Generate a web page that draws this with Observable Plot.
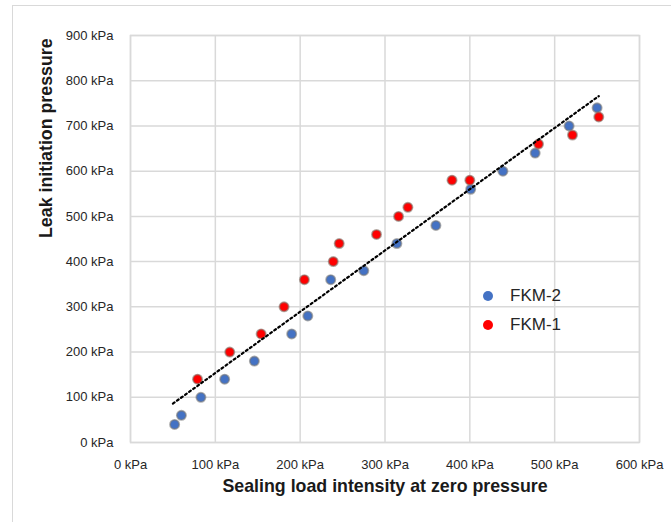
<!DOCTYPE html>
<html>
<head>
<meta charset="utf-8">
<script src="https://cdn.jsdelivr.net/npm/d3@7"></script>
<script src="https://cdn.jsdelivr.net/npm/@observablehq/plot@0.6"></script>
<style>
  html, body { margin: 0; padding: 0; background: #fff; }
  #wrap { position: relative; width: 671px; height: 522px; overflow: hidden; font-family: "Liberation Sans", Arial, sans-serif; }
  #border { position: absolute; left: 12px; top: 5px; width: 700px; height: 600px; border-top: 1px solid #d9d9d9; border-left: 1px solid #d9d9d9; }
  #chart { position: absolute; left: 0; top: 0; }
  .leg { position: absolute; display: flex; align-items: center; font-size: 17px; color: #262626; height: 20px; }
  .leg .sw { width: 10px; height: 10px; border-radius: 50%; margin-right: 17px; }
</style>
</head>
<body>
<div id="wrap">
  <div id="border"></div>
  <div id="chart"></div>
</div>
<script>
// Series: FKM-2 (blue)
const fkm2X = [52, 60, 83, 111, 146, 190, 209, 236, 275, 314, 360, 401, 439, 477, 517, 550];
const fkm2Y = [40, 60, 100, 140, 180, 240, 280, 360, 380, 440, 480, 560, 600, 640, 700, 740];
// Series: FKM-1 (red)
const fkm1X = [79, 117, 154, 181, 205, 239, 246, 290, 316, 327, 379, 400, 481, 521, 552];
const fkm1Y = [140, 200, 240, 300, 360, 400, 440, 460, 500, 520, 580, 580, 660, 680, 720];
// Linear trendline end points
const trendX = [50, 552];
const trendY = [86, 766];

const xTicks = [0, 100, 200, 300, 400, 500, 600];
const yTicks = [0, 100, 200, 300, 400, 500, 600, 700, 800, 900];
const seriesNames = ["FKM-2", "FKM-1"];
const seriesColors = ["#4472C4", "#FF0000"];
const xTitle = "Sealing load intensity at zero pressure";
const yTitle = "Leak initiation pressure";

const fkm2 = fkm2X.map((x, i) => ({x, y: fkm2Y[i], s: seriesNames[0]}));
const fkm1 = fkm1X.map((x, i) => ({x, y: fkm1Y[i], s: seriesNames[1]}));
const trend = trendX.map((x, i) => ({x, y: trendY[i]}));
const fmt = d => `${d} kPa`;

const chart = Plot.plot({
  width: 671,
  height: 522,
  marginLeft: 130,
  marginRight: 32,
  marginTop: 35,
  marginBottom: 80,
  style: { fontFamily: "'Liberation Sans', Arial, sans-serif", fontSize: "13px", color: "#262626", background: "transparent", overflow: "visible" },
  x: { domain: [0, 600] },
  y: { domain: [0, 900] },
  marks: [
    Plot.gridX(xTicks, { stroke: "#d9d9d9", strokeOpacity: 1, strokeWidth: 1.5 }),
    Plot.gridY(yTicks, { stroke: "#d9d9d9", strokeOpacity: 1, strokeWidth: 1.5 }),
    Plot.frame({ stroke: "#d9d9d9", strokeWidth: 1.5 }),
    Plot.axisX(xTicks, { tickSize: 0, tickPadding: 17, tickFormat: fmt, label: null, fontSize: 13 }),
    Plot.axisY(yTicks, { tickSize: 0, tickPadding: 17, tickFormat: fmt, label: null, fontSize: 13 }),
    Plot.dot(fkm2, { x: "x", y: "y", r: 4.6, fill: seriesColors[0], stroke: "rgba(120,120,120,0.6)", strokeWidth: 1.8 }),
    Plot.dot(fkm1, { x: "x", y: "y", r: 4.6, fill: seriesColors[1], stroke: "rgba(130,110,100,0.6)", strokeWidth: 1.8 }),
    Plot.line(trend, { x: "x", y: "y", stroke: "#000", strokeWidth: 2.2, strokeDasharray: "2 3" }),
    Plot.text([xTitle], { text: d => d, frameAnchor: "bottom", dy: 49, fontSize: 17.8, fontWeight: "bold", fill: "#1a1a1a" }),
    Plot.text([yTitle], { text: d => d, frameAnchor: "left", dx: -84, dy: -1, rotate: -90, fontSize: 17.8, fontWeight: "bold", fill: "#1a1a1a" })
  ]
});
document.getElementById("chart").appendChild(chart);

// Legend
const wrap = document.getElementById("wrap");
seriesNames.forEach((name, i) => {
  const item = document.createElement("div");
  item.className = "leg";
  item.style.left = "483px";
  item.style.top = (286 + i * 29) + "px";
  const sw = document.createElement("span");
  sw.className = "sw";
  sw.style.background = seriesColors[i];
  const t = document.createElement("span");
  t.textContent = name;
  item.appendChild(sw);
  item.appendChild(t);
  wrap.appendChild(item);
});
</script>
</body>
</html>
